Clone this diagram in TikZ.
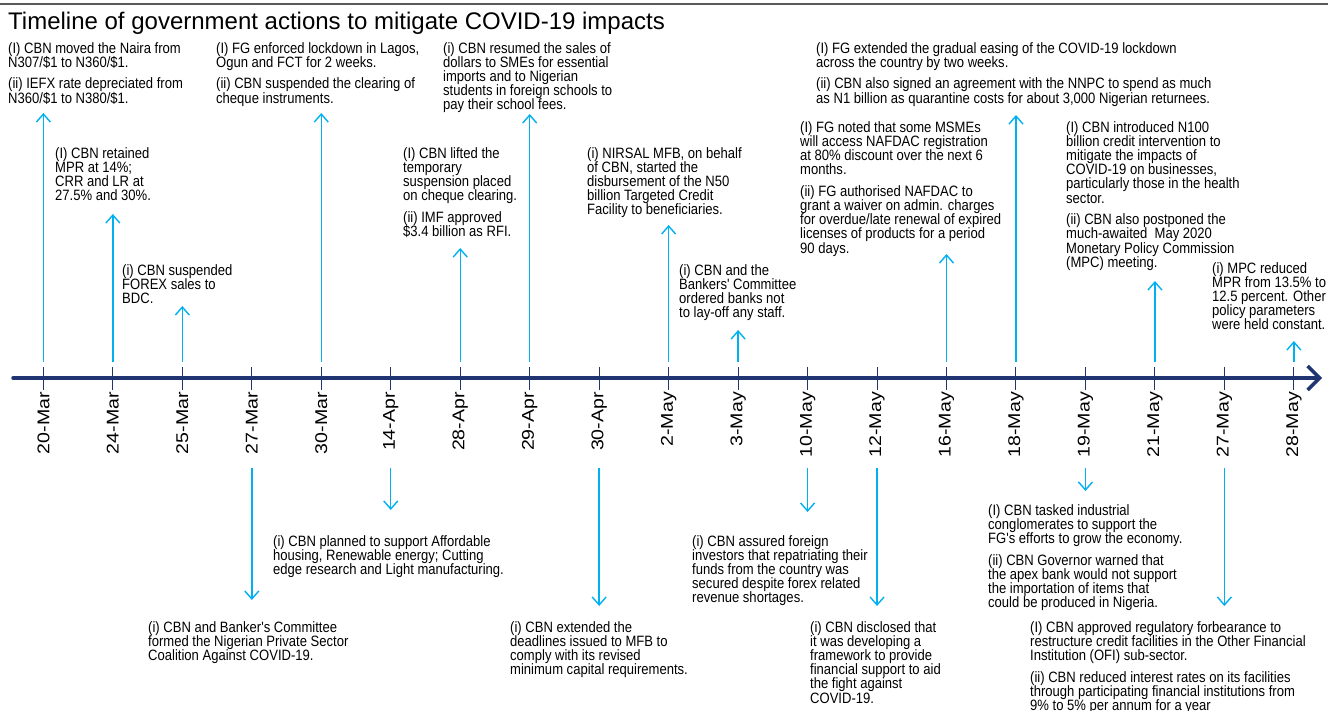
\documentclass[tikz,border=0pt]{standalone}
\usepackage{fontspec}
\setmainfont{Liberation Sans}
\newfontfamily\narrowfont{Liberation Sans}[FakeStretch=0.87]
\newfontfamily\datefont{Liberation Sans}[FakeStretch=1.15]
\usetikzlibrary{arrows.meta}
\definecolor{axisblue}{RGB}{31,52,112}
\definecolor{eventblue}{RGB}{0,176,240}
\lineskiplimit=-20pt
\tikzset{%
    >={Straight Barb[length=8pt,width=14pt]},
    base/.style = {
        inner sep=0pt, anchor=north west, align=left,
        font=\narrowfont\fontsize{15}{14.2}\selectfont
    },
    event/.style = {base},
    dateLabel/.style = {
        inner sep=0pt, rotate=90, anchor=east,
        font=\datefont\fontsize{17}{17}\selectfont
    },
    eventLine/.style = {->, draw=eventblue, line width=1.4pt},
    axisLine/.style = {
        draw=axisblue, line width=3.5pt, line cap=round,
        -{Straight Barb[length=12pt,width=24pt]}
    },
    tickLine/.style = {draw=axisblue, line width=1pt},
}

\begin{document}
\begin{tikzpicture}[x=1pt, y=-1pt]
    \useasboundingbox (0,0) rectangle (1328,710);

    % Title
    \draw[draw=black!65, line width=1.2pt] (0,4) -- (1328,4);
    \node (title) [anchor=base west, inner sep=0pt, font=\fontsize{24}{24}\selectfont]
        at (8,29) {Timeline of government actions to mitigate COVID-19 impacts};

    % Axis, ticks and dates
    \coordinate (axisStart) at (13,378);
    \coordinate (axisEnd)   at (1322,378);
    \draw[axisLine] (axisStart) -- (axisEnd);
    \foreach \d [count=\i from 0] in {20-Mar,24-Mar,25-Mar,27-Mar,30-Mar,
        14-Apr,28-Apr,29-Apr,30-Apr,2-May,3-May,10-May,12-May,16-May,
        18-May,19-May,21-May,27-May,28-May} {
        \coordinate (top\i) at (43.4+69.47*\i,362);
        \coordinate (bot\i) at (43.4+69.47*\i,468);
        \draw[tickLine] (43.4+69.47*\i,367) -- (43.4+69.47*\i,390);
        \node (date\i) [dateLabel] at (43.4+69.47*\i,392) {\d};
    }

    % Nodes position (above the axis)
    \node (mar20) [event] at (8,42)
        {(I) CBN moved the Naira from\\N307/\$1 to N360/\$1.\\[7.5pt]
         (ii) IEFX rate depreciated from\\N360/\$1 to N380/\$1.};
    \node (mar24) [event] at (55,147)
        {(I) CBN retained\\MPR at 14\%;\\CRR and LR at\\27.5\% and 30\%.};
    \node (mar25) [event] at (122,264)
        {(i) CBN suspended\\FOREX sales to\\BDC.};
    \node (mar30) [event] at (216,42)
        {(I) FG enforced lockdown in Lagos,\\Ogun and FCT for 2 weeks.\\[7.5pt]
         (ii) CBN suspended the clearing of\\cheque instruments.};
    \node (apr28) [event] at (403,147)
        {(I) CBN lifted the\\temporary\\suspension placed\\on cheque clearing.\\[7.5pt]
         (ii) IMF approved\\\$3.4 billion as RFI.};
    \node (apr29) [event] at (443,42)
        {(i) CBN resumed the sales of\\dollars to SMEs for essential\\imports and to Nigerian\\
         students in foreign schools to\\pay their school fees.};
    \node (may2) [event] at (587,147)
        {(i) NIRSAL MFB, on behalf\\of CBN, started the\\disbursement of the N50\\
         billion Targeted Credit\\Facility to beneficiaries.};
    \node (may3) [event] at (679,264)
        {(i) CBN and the\\Bankers' Committee\\ordered banks not\\to lay-off any staff.};
    \node (may16) [event] at (800,121)
        {(I) FG noted that some MSMEs\\will access NAFDAC registration\\
         at 80\% discount over the next 6\\months.\\[7.5pt]
         (ii) FG authorised NAFDAC to\\grant a waiver on admin. charges\\
         for overdue/late renewal of expired\\licenses of products for a period\\90 days.};
    \node (may18) [event] at (816,42)
        {(I) FG extended the gradual easing of the COVID-19 lockdown\\
         across the country by two weeks.\\[7.5pt]
         (ii) CBN also signed an agreement with the NNPC to spend as much\\
         as N1 billion as quarantine costs for about 3,000 Nigerian returnees.};
    \node (may21) [event] at (1066,121)
        {(I) CBN introduced N100\\billion credit intervention to\\mitigate the impacts of\\
         COVID-19 on businesses,\\particularly those in the health\\sector.\\[7.5pt]
         (ii) CBN also postponed the\\much-awaited\ \ May 2020\\
         Monetary Policy Commission\\(MPC) meeting.};
    \node (may28) [event] at (1212,262)
        {(i) MPC reduced\\MPR from 13.5\% to\\12.5 percent. Other\\
         policy parameters\\were held constant.};

    % Nodes position (below the axis)
    \node (mar27) [event] at (148,621)
        {(i) CBN and Banker's Committee\\formed the Nigerian Private Sector\\
         Coalition Against COVID-19.};
    \node (apr14) [event] at (273,535)
        {(i) CBN planned to support Affordable\\housing, Renewable energy; Cutting\\
         edge research and Light manufacturing.};
    \node (apr30) [event] at (510,621)
        {(i) CBN extended the\\deadlines issued to MFB to\\comply with its revised\\
         minimum capital requirements.};
    \node (may10) [event] at (692,535)
        {(i) CBN assured foreign\\investors that repatriating their\\funds from the country was\\
         secured despite forex related\\revenue shortages.};
    \node (may12) [event] at (810,621)
        {(i) CBN disclosed that\\it was developing a\\framework to provide\\
         financial support to aid\\the fight against\\COVID-19.};
    \node (may19) [event] at (988,504)
        {(I) CBN tasked industrial\\conglomerates to support the\\
         FG's efforts to grow the economy.\\[7.5pt]
         (ii) CBN Governor warned that\\the apex bank would not support\\
         the importation of items that\\could be produced in Nigeria.};
    \node (may27) [event] at (1030,621)
        {(I) CBN approved regulatory forbearance to\\
         restructure credit facilities in the Other Financial\\
         Institution (OFI) sub-sector.\\[7.5pt]
         (ii) CBN reduced interest rates on its facilities\\
         through participating financial institutions from\\
         9\% to 5\% per annum for a year};

    % Arrow ends
    \coordinate (tip0)  at (top0  |- 0,113);
    \coordinate (tip1)  at (top1  |- 0,214);
    \coordinate (tip2)  at (top2  |- 0,306);
    \coordinate (tip3)  at (bot3  |- 0,600);
    \coordinate (tip4)  at (top4  |- 0,113);
    \coordinate (tip5)  at (bot5  |- 0,510);
    \coordinate (tip6)  at (top6  |- 0,248);
    \coordinate (tip7)  at (top7  |- 0,114);
    \coordinate (tip8)  at (bot8  |- 0,606);
    \coordinate (tip9)  at (top9  |- 0,225);
    \coordinate (tip10) at (top10 |- 0,330);
    \coordinate (tip11) at (bot11 |- 0,512);
    \coordinate (tip12) at (bot12 |- 0,606);
    \coordinate (tip13) at (top13 |- 0,254);
    \coordinate (tip14) at (top14 |- 0,115);
    \coordinate (tip15) at (bot15 |- 0,491);
    \coordinate (tip16) at (top16 |- 0,281);
    \coordinate (tip17) at (bot17 |- 0,606);
    \coordinate (tip18) at (top18 |- 0,341);

    % Arrow specification
    \foreach \i in {0,1,2,4,6,7,9,10,13,14,16,18}
        \draw[eventLine] (top\i) -- (tip\i);
    \foreach \i in {3,5,8,11,12,15,17}
        \draw[eventLine] (bot\i) -- (tip\i);
\end{tikzpicture}
\end{document}
